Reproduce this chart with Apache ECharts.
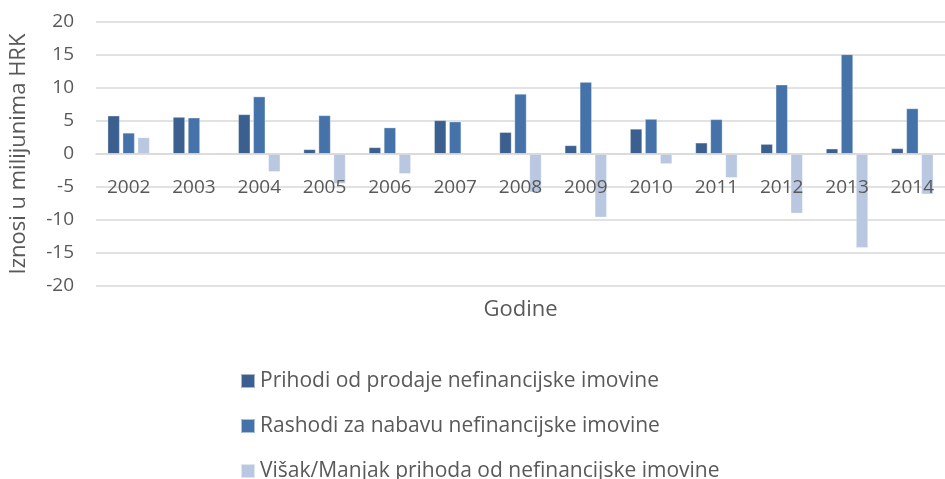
<!DOCTYPE html>
<html>
<head>
<meta charset="utf-8">
<script src="https://cdn.jsdelivr.net/npm/echarts@6/dist/echarts.min.js"></script>
<style>
  html, body { margin: 0; padding: 0; background: #ffffff; }
  #chart { width: 945px; height: 479px; }
</style>
</head>
<body>
<div id="chart"></div>
<script>
// Godine (years)
const years = ['2002', '2003', '2004', '2005', '2006', '2007', '2008', '2009', '2010', '2011', '2012', '2013', '2014'];

// Iznosi u milijunima HRK
const prihodi = [5.8, 5.6, 6.0, 0.7, 1.0, 5.1, 3.3, 1.3, 3.8, 1.7, 1.5, 0.8, 0.85];
const rashodi = [3.2, 5.5, 8.7, 5.85, 4.0, 4.9, 9.1, 10.9, 5.3, 5.25, 10.5, 15.1, 6.9];
const visakManjak = [2.5, 0, -2.7, -4.5, -3.0, 0.15, -5.8, -9.6, -1.5, -3.6, -9.0, -14.2, -6.1];

const seriesNames = [
  'Prihodi od prodaje nefinancijske imovine',
  'Rashodi za nabavu nefinancijske imovine',
  'Višak/Manjak prihoda od nefinancijske imovine'
];
const colors = ['#3b5f8e', '#4573a9', '#b9c7e0'];

const fontFamily = '"Open Sans", "Noto Sans", sans-serif';
const textColor = '#595959';

const chart = echarts.init(document.getElementById('chart'));

function barSeries(name, data, color) {
  return {
    name: name,
    type: 'bar',
    data: data,
    barWidth: 12,
    barGap: '25%',
    itemStyle: { color: color, borderColor: 'rgba(255,255,255,0.55)', borderWidth: 0.6 },
    z: 2
  };
}

// plot area: 264 px tall for the -20..20 range, so the zero line sits 132 px above the bottom
chart.setOption({
  animation: false,
  backgroundColor: '#ffffff',
  color: colors,
  textStyle: { fontFamily: fontFamily },
  grid: {
    left: 96,
    top: 22,
    width: 862,
    height: 264,
    containLabel: false
  },
  xAxis: {
    type: 'category',
    data: years,
    offset: -132,
    name: 'Godine',
    nameLocation: 'middle',
    nameGap: 145,
    nameMoveOverlap: false,
    nameTextStyle: { fontSize: 22, color: textColor, fontFamily: fontFamily },
    axisLine: { onZero: false, lineStyle: { color: '#d9d9d9', width: 1.5 } },
    axisTick: { show: false },
    axisLabel: { margin: 24, fontSize: 19, color: textColor, fontFamily: fontFamily },
    z: 5
  },
  yAxis: {
    type: 'value',
    min: -20,
    max: 20,
    interval: 5,
    name: 'Iznosi u milijunima HRK',
    nameLocation: 'middle',
    nameGap: 66,
    nameRotate: 90,
    nameMoveOverlap: false,
    nameTextStyle: { fontSize: 22, color: textColor, fontFamily: fontFamily },
    axisLine: { show: false },
    axisTick: { show: false },
    axisLabel: { margin: 22, fontSize: 19, color: textColor, fontFamily: fontFamily },
    splitLine: { lineStyle: { color: '#d9d9d9', width: 1.5 } }
  },
  legend: {
    orient: 'vertical',
    left: 240,
    top: 369,
    height: 160,
    padding: 0,
    itemGap: 21,
    itemWidth: 14,
    itemHeight: 14,
    icon: 'rect',
    textStyle: { fontSize: 21, lineHeight: 24, color: textColor, fontFamily: fontFamily },
    data: seriesNames
  },
  series: [
    barSeries(seriesNames[0], prihodi, colors[0]),
    barSeries(seriesNames[1], rashodi, colors[1]),
    barSeries(seriesNames[2], visakManjak, colors[2])
  ]
});
</script>
</body>
</html>
